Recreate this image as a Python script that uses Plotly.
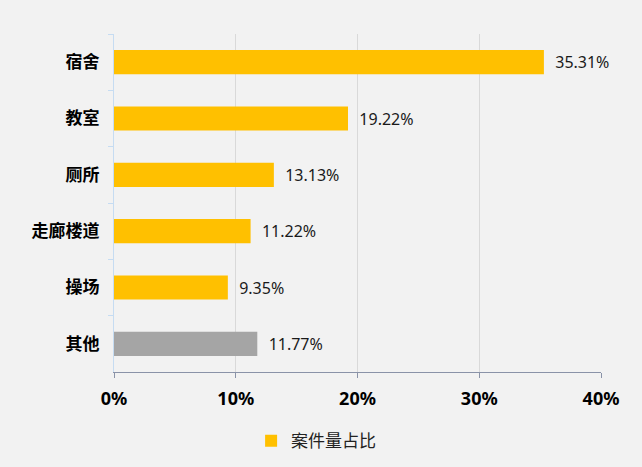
import plotly.graph_objects as go

categories = ["宿舍", "教室", "厕所", "走廊楼道", "操场", "其他"]
values = [35.31, 19.22, 13.13, 11.22, 9.35, 11.77]
bar_colors = ["#FFC000", "#FFC000", "#FFC000", "#FFC000", "#FFC000", "#A5A5A5"]
x_ticks = [0, 10, 20, 30, 40]
x_tick_labels = ["0%", "10%", "20%", "30%", "40%"]
series_name = "案件量占比"

fig = go.Figure()
fig.add_trace(go.Bar(
    y=categories, x=values, orientation="h",
    marker=dict(color=bar_colors, line=dict(width=0)),
    text=["  %.2f%%" % v for v in values],
    textposition="outside",
    constraintext="none",
    textfont=dict(size=16, color="#1a1a1a", family="Noto Sans, Noto Sans CJK SC"),
    cliponaxis=False,
    name=series_name, showlegend=True,
))

fig.update_layout(
    width=642, height=467,
    paper_bgcolor="#F2F2F2", plot_bgcolor="#F2F2F2",
    margin=dict(l=114, r=41, t=34, b=95, autoexpand=False),
    bargap=0.57,
    font=dict(family="Noto Sans, Noto Sans CJK SC", color="#000000"),
    legend=dict(orientation="h", x=0.415, xanchor="center", y=-0.205, yanchor="middle",
                font=dict(size=17, color="#222222", family="Noto Sans CJK SC")),
    xaxis=dict(range=[0, 40], tickvals=x_ticks, ticktext=x_tick_labels,
               showgrid=True, gridcolor="#D9D9D9", gridwidth=1,
               showline=True, linecolor="#8A93A8", linewidth=1,
               ticks="outside", ticklen=5, tickcolor="#8A93A8",
               ticklabelstandoff=5, automargin=False,
               tickfont=dict(size=18, weight="bold", family="Noto Sans, Noto Sans CJK SC"),
               zeroline=False, fixedrange=True),
    yaxis=dict(autorange="reversed", showline=True, linecolor="#C6DCF2", linewidth=1,
               ticks="outside", ticklen=5, tickcolor="#C6DCF2", tickson="boundaries",
               tickfont=dict(size=17, weight="bold", family="Noto Sans CJK SC"),
               ticklabelstandoff=10, showgrid=False, fixedrange=True, automargin=False),
)

fig.write_html("out.html")
